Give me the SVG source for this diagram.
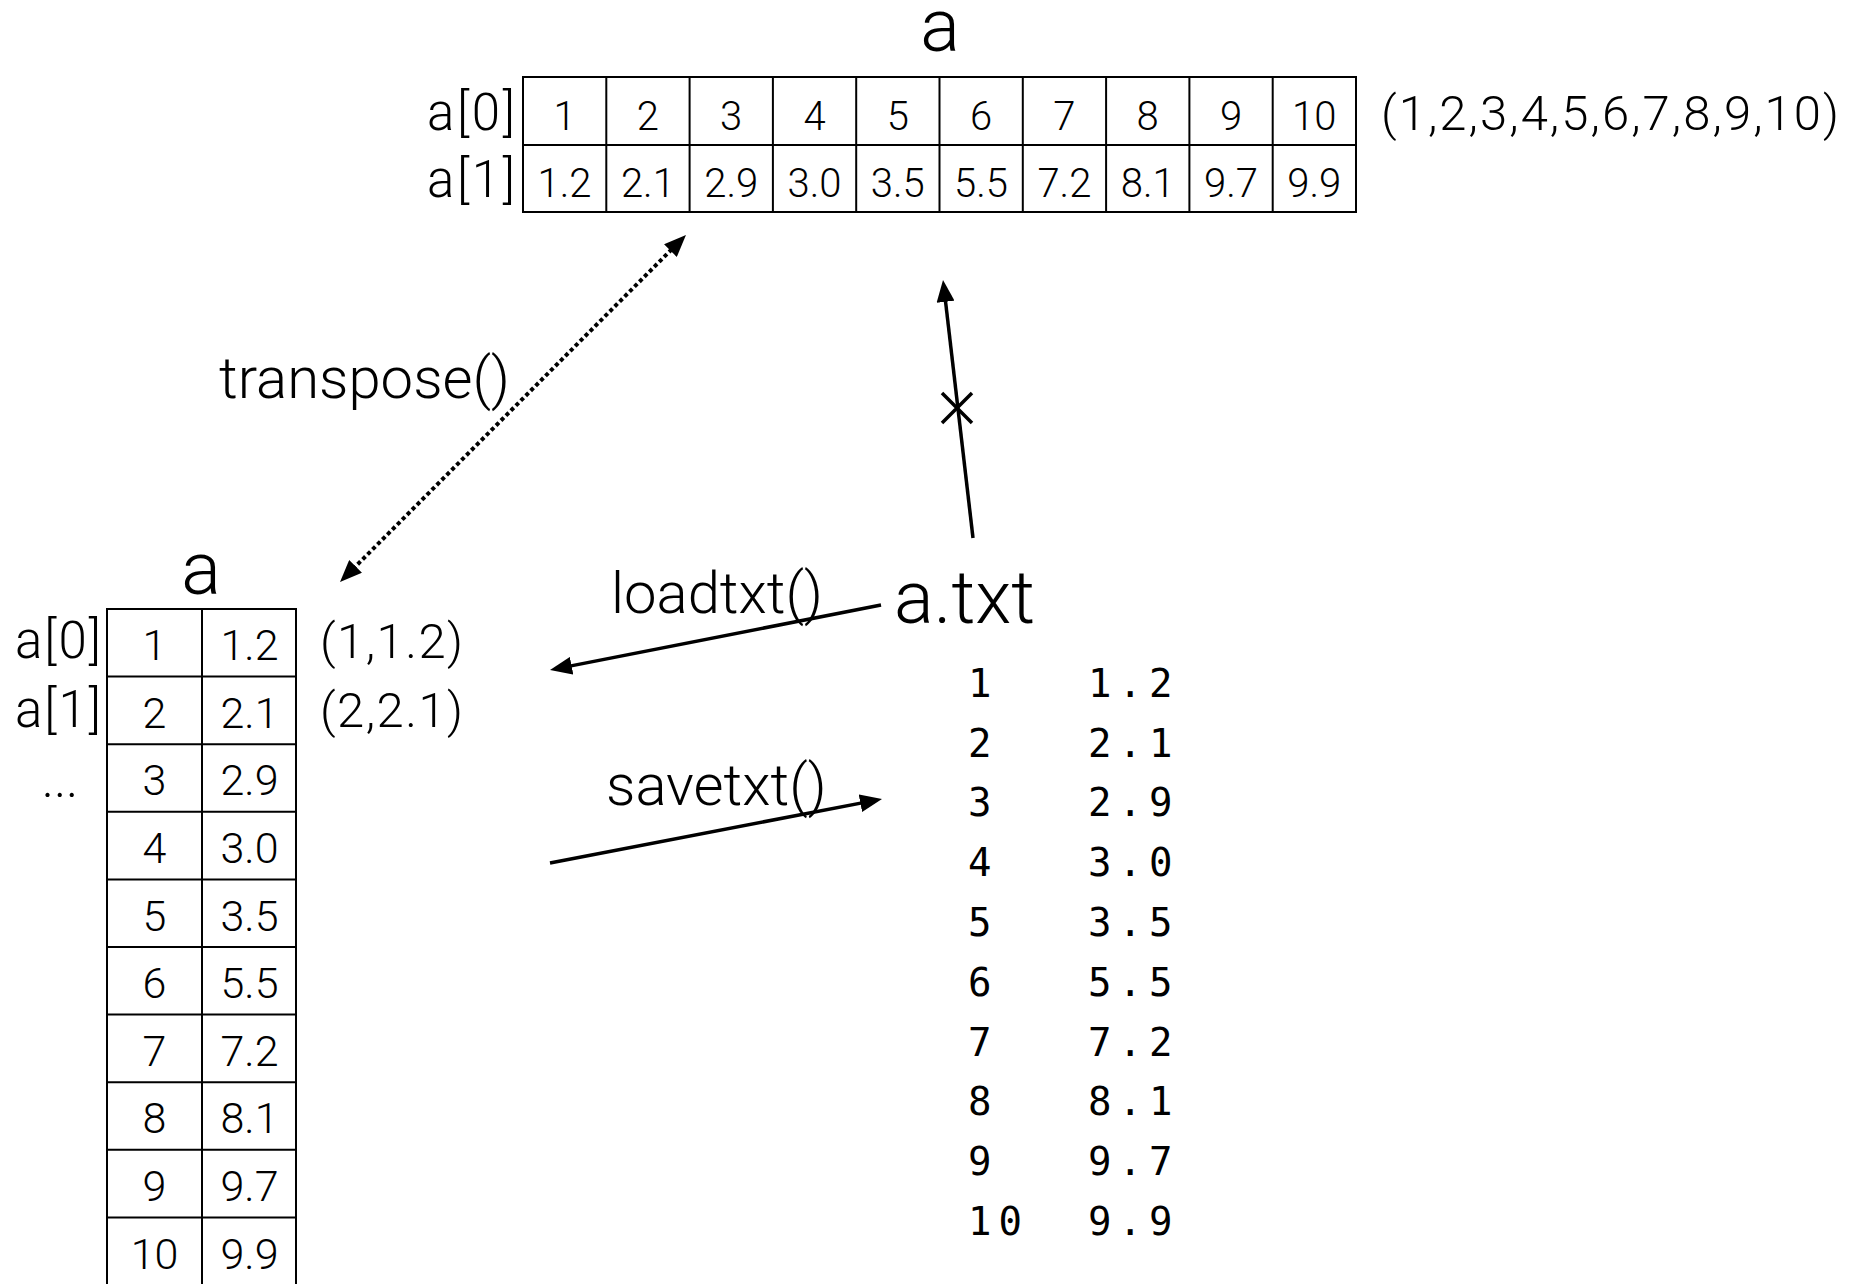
<svg xmlns="http://www.w3.org/2000/svg" width="1864" height="1284" viewBox="0 0 1864 1284">
<style>
  .sans { font-family: Roboto, "Liberation Sans", Arial, sans-serif; font-weight: 300; fill: #000; }
  .mono { font-family: "DejaVu Sans Mono", "Liberation Mono", monospace; fill: #000; font-size: 39px; letter-spacing: 7px; }
  .title { font-size: 74px; }
  .lbl { font-size: 51px; }
  .tup { font-size: 49px; }
  .cellT { font-size: 40px; text-anchor: middle; }
  .cellL { font-size: 43px; text-anchor: middle; }
  .fn { font-size: 58px; }
  .grid { fill: none; stroke: #000; stroke-width: 2; }
  .conn { fill: none; stroke: #000; stroke-width: 3.5; }
  .dot { fill: none; stroke: #000; stroke-width: 4; stroke-dasharray: 4 3; }
</style>
<defs>
  <marker id="head" viewBox="0 0 22 18" markerUnits="userSpaceOnUse" markerWidth="22" markerHeight="18" refX="11" refY="9" orient="auto-start-reverse">
    <path d="M0,0 L22,9 L0,18 Z" fill="#000"/>
  </marker>
</defs>
<rect width="1864" height="1284" fill="#fff"/>

<g id="node-top-array">
  <text class="sans title" x="940" y="51" text-anchor="middle">a</text>
  <text class="sans lbl" x="515" y="130" text-anchor="end" textLength="88" lengthAdjust="spacing">a[0]</text>
  <text class="sans lbl" x="515" y="197" text-anchor="end" textLength="88" lengthAdjust="spacing">a[1]</text>
  <rect class="grid" x="523" y="77" width="833" height="135"/>
  <path class="grid" d="M523,145 H1356 M606.3,77 V212 M689.6,77 V212 M772.9,77 V212 M856.2,77 V212 M939.5,77 V212 M1022.8,77 V212 M1106.1,77 V212 M1189.4,77 V212 M1272.7,77 V212"/>
  <g class="sans cellT">
    <text x="564.6" y="130">1</text><text x="647.9" y="130">2</text><text x="731.2" y="130">3</text><text x="814.5" y="130">4</text><text x="897.8" y="130">5</text><text x="981.1" y="130">6</text><text x="1064.4" y="130">7</text><text x="1147.7" y="130">8</text><text x="1231" y="130">9</text><text x="1314.3" y="130">10</text>
    <text x="564.6" y="197">1.2</text><text x="647.9" y="197">2.1</text><text x="731.2" y="197">2.9</text><text x="814.5" y="197">3.0</text><text x="897.8" y="197">3.5</text><text x="981.1" y="197">5.5</text><text x="1064.4" y="197">7.2</text><text x="1147.7" y="197">8.1</text><text x="1231" y="197">9.7</text><text x="1314.3" y="197">9.9</text>
  </g>
  <text class="sans tup" x="1381" y="130" textLength="458" lengthAdjust="spacing">(1,2,3,4,5,6,7,8,9,10)</text>
</g>

<g id="node-left-array">
  <text class="sans title" x="201" y="594" text-anchor="middle">a</text>
  <text class="sans lbl" x="101" y="658" text-anchor="end" textLength="86" lengthAdjust="spacing">a[0]</text>
  <text class="sans lbl" x="101" y="727" text-anchor="end" textLength="86" lengthAdjust="spacing">a[1]</text>
  <text class="sans lbl" x="60" y="797" text-anchor="middle">...</text>
  <text class="sans tup" x="320" y="658" textLength="143" lengthAdjust="spacing">(1,1.2)</text>
  <text class="sans tup" x="320" y="727" textLength="143" lengthAdjust="spacing">(2,2.1)</text>
  <rect class="grid" x="107" y="609" width="189" height="690"/>
  <path class="grid" d="M202,609 V1290 M107,676.6 H296 M107,744.2 H296 M107,811.8 H296 M107,879.4 H296 M107,947 H296 M107,1014.6 H296 M107,1082.2 H296 M107,1149.8 H296 M107,1217.4 H296"/>
  <g class="sans cellL">
    <text x="154.5" y="660.1">1</text><text x="249.5" y="660.1">1.2</text>
    <text x="154.5" y="727.7">2</text><text x="249.5" y="727.7">2.1</text>
    <text x="154.5" y="795.3">3</text><text x="249.5" y="795.3">2.9</text>
    <text x="154.5" y="862.9">4</text><text x="249.5" y="862.9">3.0</text>
    <text x="154.5" y="930.5">5</text><text x="249.5" y="930.5">3.5</text>
    <text x="154.5" y="998.1">6</text><text x="249.5" y="998.1">5.5</text>
    <text x="154.5" y="1065.7">7</text><text x="249.5" y="1065.7">7.2</text>
    <text x="154.5" y="1133.3">8</text><text x="249.5" y="1133.3">8.1</text>
    <text x="154.5" y="1200.9">9</text><text x="249.5" y="1200.9">9.7</text>
    <text x="154.5" y="1268.5">10</text><text x="249.5" y="1268.5">9.9</text>
  </g>
</g>

<g id="node-atxt">
  <text class="sans title" x="894" y="623">a.txt</text>
  <g class="mono">
    <text x="968" y="697">1</text><text x="1088" y="697">1.2</text>
    <text x="968" y="757">2</text><text x="1088" y="757">2.1</text>
    <text x="968" y="816">3</text><text x="1088" y="816">2.9</text>
    <text x="968" y="876">4</text><text x="1088" y="876">3.0</text>
    <text x="968" y="936">5</text><text x="1088" y="936">3.5</text>
    <text x="968" y="996">6</text><text x="1088" y="996">5.5</text>
    <text x="968" y="1056">7</text><text x="1088" y="1056">7.2</text>
    <text x="968" y="1115">8</text><text x="1088" y="1115">8.1</text>
    <text x="968" y="1175">9</text><text x="1088" y="1175">9.7</text>
    <text x="968" y="1235">10</text><text x="1088" y="1235">9.9</text>
  </g>
</g>

<g id="connectors">
  <path class="dot" d="M347.8,574.2 L678.2,242.8" marker-start="url(#head)" marker-end="url(#head)"/>
  <text class="sans fn" x="219" y="398">transpose()</text>
  <path class="conn" d="M881,605 L560.8,667.9" marker-end="url(#head)"/>
  <text class="sans fn" x="611" y="613">loadtxt()</text>
  <path class="conn" d="M550,863 L871.2,801.1" marker-end="url(#head)"/>
  <text class="sans fn" x="606" y="805">savetxt()</text>
  <path class="conn" d="M973,538 L944.3,290.9" marker-end="url(#head)"/>
  <path class="conn" d="M942,393 L972,423 M972,393 L942,423" stroke-width="3"/>
</g>
</svg>
